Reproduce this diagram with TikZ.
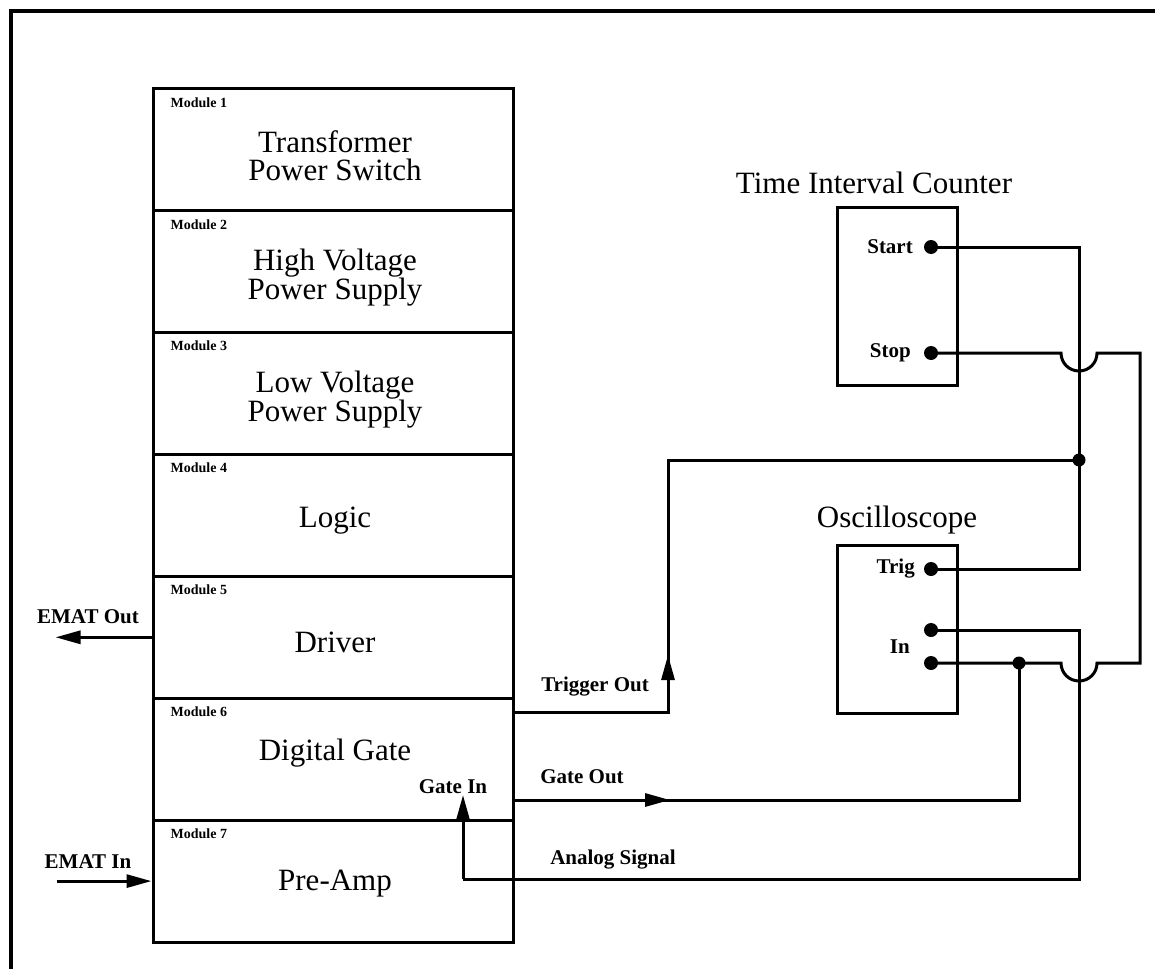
\documentclass[tikz,border=0pt]{standalone}
\usepackage{fontspec}
\setmainfont{Liberation Serif}
\usetikzlibrary{arrows.meta,calc}
\tikzset{
  wire/.style={line width=3pt,line join=miter},
  frame/.style={line width=4pt},
  module/.style={draw,line width=3pt,minimum width=360pt,minimum height=121.9pt,inner sep=0pt},
  instrument/.style={draw,line width=3pt,inner sep=0pt,minimum width=120pt},
  headtip/.style={-{Triangle[length=25pt,width=13pt]}},
  port/.style={circle,fill,inner sep=0pt,minimum size=14pt},
  joint/.style={circle,fill,inner sep=0pt,minimum size=13pt},
  title/.style={font=\fontsize{31}{28}\selectfont,align=center,inner sep=0pt},
  modlabel/.style={font=\fontsize{14}{16}\selectfont\bfseries,anchor=west,inner sep=0pt},
  tag/.style={font=\fontsize{21}{23}\selectfont\bfseries,inner sep=0pt},
}
\begin{document}
\begin{tikzpicture}[x=1pt,y=-1pt]
\clip (0,0) rectangle (1155,968);
% outer frame (runs off the right and bottom edges)
\draw[frame] (11,1000) -- (11,11) -- (1200,11);

% module stack
\foreach \k/\c in {1/149.9,2/271.8,3/393.6,4/515.5,5/637.3,6/759.2,7/881.1}{
  \node[module] (m\k) at (333,\c) {};
  \node[modlabel] at ($(m\k.north west)+(19,15)$) {Module \k};
}
\node[title] at ($(m1.center)+(2,6)$) {Transformer\\Power Switch};
\node[title] at ($(m2.center)+(2,6)$) {High Voltage\\Power Supply};
\node[title] at ($(m3.center)+(2,6)$) {Low Voltage\\Power Supply};
\node[title] at ($(m4.center)+(2,5)$) {Logic};
\node[title] at ($(m5.center)+(2,5)$) {Driver};
\node[title] at ($(m6.center)+(2,-6)$) {Digital Gate};
\node[title] at ($(m7.center)+(2,2)$) {Pre-Amp};

% EMAT connections
\coordinate (emo) at ($(m5.west)+(-96,0)$);
\coordinate (emi) at ($(m7.west)+(-95,0)$);
\draw[wire,headtip] (m5.west) -- (emo);
\draw[wire,headtip] (emi) -- (m7.west);
\node[tag] at (88,617) {EMAT Out};
\node[tag] at (88,862) {EMAT In};

% instruments
\node[title] (tictitle) at (874,183) {Time Interval Counter};
\node[instrument,minimum height=177pt] (tic) at (897,296.5) {};
\node[title] (osctitle) at (897,520) {Oscilloscope};
\node[instrument,minimum height=168pt] (osc) at (897,629) {};

\node[port] (start) at (931,247) {};
\node[port] (stop) at (931,353) {};
\node[port] (trig) at (931,569) {};
\node[port] (inA) at (931,630) {};
\node[port] (inB) at (931,663) {};
\node[tag,anchor=east] at (913,247) {Start};
\node[tag,anchor=east] at (911,353) {Stop};
\node[tag,anchor=east] at (915,569) {Trig};
\node[tag,anchor=east] at (910,647) {In};

% routing points
\coordinate (tj) at (1079,460);
\coordinate (gj) at (1019,663);
\coordinate (h1) at (1079,353);
\coordinate (h2) at (1079,663);
\coordinate (sr) at (1140,353);
\coordinate (trigbend) at (668,712);
\coordinate (gobend) at (1019,800);
\coordinate (anbend) at (1079,879);
\coordinate (gatein) at (463,795);

% start -> trig
\draw[wire] (start.center) -- (start.center -| tj) -- (trig.center -| tj) -- (trig.center);

% stop -> scope input, hopping over the vertical wire twice
\draw[wire] (stop.center) -- ($(h1)+(-18,0)$)
  .. controls +(0,10) and +(-10,0) .. ($(h1)+(0,18)$)
  .. controls +(10,0) and +(0,10) .. ($(h1)+(18,0)$)
  -- (sr) -- (sr |- h2) -- ($(h2)+(18,0)$)
  .. controls +(0,10) and +(10,0) .. ($(h2)+(0,18)$)
  .. controls +(-10,0) and +(0,10) .. ($(h2)+(-18,0)$)
  -- (inB.center);

% trigger out
\draw[wire] (m6.east |- trigbend) -- (trigbend) -- (trigbend |- tj) -- (tj);
\draw[wire,headtip] (trigbend) -- ++(0,-57);
\node[tag] at (595,687) {Trigger Out};

% gate out
\draw[wire] (m6.east |- gobend) -- (gobend) -- (gj);
\draw[wire,headtip] (m6.east |- gobend) -- (670,800);
\node[tag] at (582,777) {Gate Out};

% analog signal
\draw[wire] (inA.center) -- (inA.center -| anbend) -- (anbend) -- (gatein |- anbend);
\draw[wire,headtip] (gatein |- anbend) -- (gatein);
\node[tag] at (613,860) {Analog Signal};
\node[tag] at (453,787) {Gate In};

% junction dots
\node[joint] at (tj) {};
\node[joint] at (gj) {};
\end{tikzpicture}
\end{document}
